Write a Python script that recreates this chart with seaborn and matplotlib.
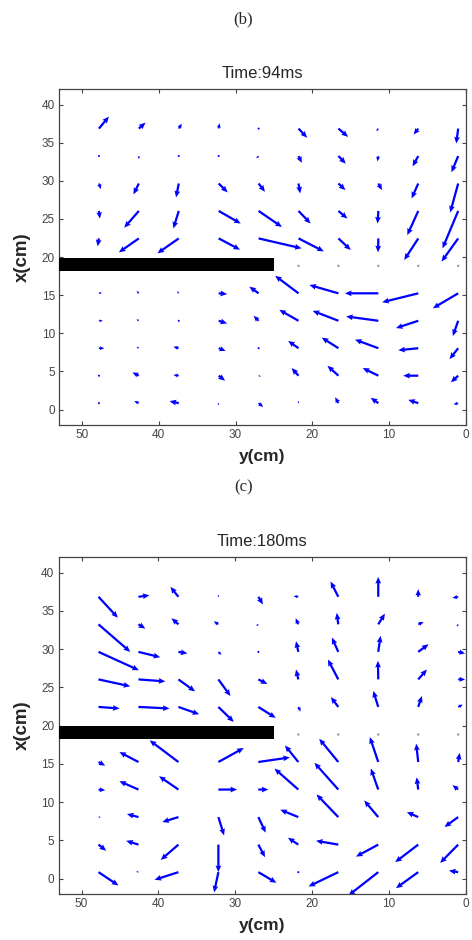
import numpy as np
import pandas as pd
import seaborn as sns
import matplotlib.pyplot as plt

# grid of measurement points: y(cm) columns, x(cm) rows
col_y = [47.8, 42.6, 37.4, 32.2, 27.0, 21.8, 16.6, 11.4, 6.2, 1.0]
row_x = [36.85, 33.25, 29.65, 26.05, 22.45, 15.25, 11.65, 8.05, 4.45, 0.85]

# points in the row hidden behind the plate (zero vectors)
dot_y = [21.8, 16.6, 11.4, 6.2, 1.0]
dot_x = [18.85, 18.85, 18.85, 18.85, 18.85]

# plate
plate_y = [53.0, 25.0]
plate_bottom = 18.2
plate_top = 19.9

# Time 94 ms: components along y(cm) (u) and x(cm) (v), one list per row
u_94 = [
    [-1.3, -0.87, -0.4, -0.1, -0.05, -1.13, -1.26, 0.26, 0.6, 0.26],
    [-0.2, 0.0, -0.1, 0.0, 0.3, -0.43, -0.96, 0.13, 0.74, 0.87],
    [-0.26, 0.7, 0.35, -1.17, -0.83, -0.22, -0.91, -0.48, 0.87, 1.04],
    [-0.13, 1.9, 0.7, -2.87, -3.04, -1.57, -1.17, 0.1, 1.43, 2.04],
    [0.17, 2.6, 2.78, -2.78, -5.6, -3.3, -1.6, 0.04, 1.83, 2.17],
    [-0.4, 0.3, 0.2, -1.1, 1.2, 3.04, 3.78, 4.35, 4.7, 3.3],
    [-0.5, 0.3, 0.0, -1.1, 0.65, 2.5, 3.35, 4.2, 2.9, 0.7],
    [-0.7, 0.3, 0.7, -0.9, -0.2, 1.35, 2.17, 3.04, 2.6, 1.13],
    [-0.2, 0.83, 0.7, -0.83, -0.3, 0.9, 1.43, 2.04, 1.96, 0.96],
    [-0.1, 0.6, 1.2, 0.1, -0.6, 0.0, 0.43, 1.0, 1.3, 0.6],
]
v_94 = [
    [1.57, 0.78, 0.65, 0.7, 0.1, -1.2, -1.09, -0.35, -0.78, -1.96],
    [0.05, -0.4, -0.05, 0.05, -0.3, -0.9, -1.0, -0.7, -1.35, -2.13],
    [-0.74, -1.43, -1.83, -1.17, -1.09, -1.3, -0.87, -0.87, -1.96, -3.8],
    [-1.0, -2.2, -2.3, -1.65, -2.1, -1.65, -1.0, -1.65, -3.17, -4.9],
    [-1.04, -1.83, -1.96, -1.48, -1.3, -1.7, -1.52, -1.83, -2.83, -3.04],
    [0.1, 0.3, 0.3, -0.1, 0.87, 2.3, 1.09, 0.0, -1.17, -1.96],
    [0.0, 0.2, 0.2, -0.35, 0.65, 1.43, 1.3, 0.57, -0.96, -2.0],
    [0.0, 0.2, 0.2, -0.35, -0.1, 0.96, 1.39, 1.13, -0.26, -1.43],
    [0.0, 0.43, 0.1, -0.65, -0.1, 1.0, 1.3, 1.0, 0.0, -0.87],
    [0.0, 0.26, 0.26, -0.3, -0.5, 0.3, 0.78, 0.7, 0.43, -0.17],
]

# Time 180 ms
u_180 = [
    [-2.52, -1.43, 1.04, 0.0, -0.6, 0.6, 1.0, 0.0, 0.0, 0.75],
    [-4.13, -0.9, 0.9, 0.6, 0.3, 0.35, 0.2, -0.87, -0.7, 0.2],
    [-5.26, -2.83, -1.17, -0.4, 0.0, 0.3, 0.83, -0.3, -1.35, -0.9],
    [-4.13, -3.5, -2.17, -1.57, -1.17, 0.3, 1.35, 0.04, -1.13, -0.9],
    [-2.74, -4.04, -2.7, -2.0, -2.26, -0.3, 0.96, 0.65, -0.48, -0.6],
    [-0.87, 2.48, 3.74, -3.3, -4.1, 1.74, 2.48, 1.09, 0.26, -0.2],
    [-0.87, 2.48, 2.52, -2.43, -1.3, 3.1, 3.1, 0.96, 0.2, 0.74],
    [-0.3, 1.5, 2.1, -0.74, -0.96, 2.35, 2.83, 1.83, 1.48, 1.78],
    [-1.0, 1.6, 2.3, 0.0, -0.87, 1.35, 2.9, 2.9, 3.0, 2.35],
    [-2.6, 0.3, 3.1, 0.56, -2.35, 0.0, 3.87, 3.87, 2.9, 1.2],
]
v_180 = [
    [-2.74, 0.2, 1.3, 0.3, -1.0, 0.1, 2.0, 2.6, 1.0, -0.15],
    [-3.6, -0.55, 0.8, 0.4, -0.2, 0.8, 1.5, 1.4, 0.3, -0.3],
    [-2.4, -0.7, -0.2, -0.4, 0.0, 1.4, 1.87, 2.1, 1.0, -0.2],
    [-0.9, -0.26, -1.57, -2.17, -0.6, 1.3, 2.6, 2.43, 1.3, 0.0],
    [-0.2, -0.2, -0.96, -1.96, -1.43, -0.6, 1.3, 2.1, 1.43, 0.3],
    [-0.48, 1.3, 2.83, 1.83, 0.6, 2.17, 3.04, 3.26, 2.4, 1.2],
    [-0.1, 1.09, 1.74, 0.0, 0.0, 2.74, 3.5, 2.74, 1.6, 0.57],
    [0.0, 0.4, -0.65, -2.4, -2.04, 0.96, 2.96, 2.17, 0.65, -1.3],
    [-0.8, 0.5, -2.0, -3.6, -1.65, 0.9, 0.5, -1.57, -2.3, -2.4],
    [-1.74, 0.1, -1.0, -2.65, -1.39, 0.0, -1.87, -3.04, -2.1, 0.2],
]

panels = [("(b)", "Time:94ms", u_94, v_94), ("(c)", "Time:180ms", u_180, v_180)]

sns.set_style("ticks")
plt.rcParams['font.family'] = ['Liberation Sans', 'DejaVu Sans']

fig = plt.figure(figsize=(4.72, 9.40), dpi=100)
axes_rects = [[0.125, 0.548, 0.862, 0.357], [0.124, 0.049, 0.863, 0.358]]
label_y = [0.979, 0.482]

gy, gx = np.meshgrid(col_y, row_x)

for (tag, title, u, v), rect, ly in zip(panels, axes_rects, label_y):
    ax = fig.add_axes(rect)
    df = pd.DataFrame({'y': gy.ravel(), 'x': gx.ravel(),
                       'u': np.ravel(u), 'v': np.ravel(v)})
    # tails at grid points, like MATLAB quiver
    ax.quiver(df['y'], df['x'], df['u'], df['v'], angles='xy',
              scale_units='xy', scale=1, color='#0000ff', width=0.0055,
              headwidth=2.6, headlength=3.0, headaxislength=2.7,
              minshaft=1.2)
    sns.scatterplot(x=dot_y, y=dot_x, ax=ax, s=3, color='#999999',
                    edgecolor='none', legend=False)
    ax.fill_between(plate_y, plate_bottom, plate_top, color='black', lw=0,
                    zorder=5)
    ax.set_xlim(53, 0)
    ax.set_ylim(-2, 42)
    ax.set_xticks([50, 40, 30, 20, 10, 0])
    ax.set_yticks(range(0, 41, 5))
    ax.tick_params(direction='in', top=True, right=True, length=3,
                   width=0.8, labelsize=8.5, colors='#444444', pad=3)
    for s in ax.spines.values():
        s.set_color('#444444')
        s.set_linewidth(0.9)
    ax.set_title(title, fontsize=12, pad=8)
    ax.set_xlabel('y(cm)', fontsize=12.5, fontweight='bold')
    ax.set_ylabel('x(cm)', fontsize=13.5, fontweight='bold')
    ax.xaxis.set_label_coords(0.5, -0.072)
    ax.yaxis.set_label_coords(-0.068, 0.5)
    fig.text(0.515, ly, tag, ha='center', va='center', fontsize=12,
             family='Liberation Serif')

fig.savefig('out.png', dpi=100)
